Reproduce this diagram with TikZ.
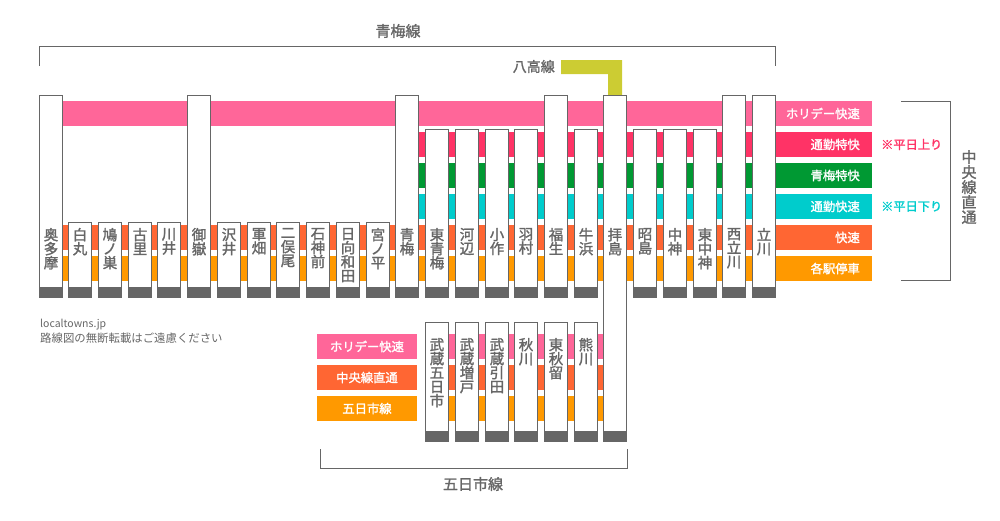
\documentclass[tikz,border=0pt]{standalone}
\usepackage{fontspec}
\setmainfont{Noto Sans CJK JP}
\newfontfamily\medf[FakeBold=1.6]{Noto Sans CJK JP}
\definecolor{ink}{HTML}{666666}
\definecolor{choliday}{HTML}{FF6699}
\definecolor{ccomm}{HTML}{FF3366}
\definecolor{cgreen}{HTML}{009933}
\definecolor{ccyan}{HTML}{00CCCC}
\definecolor{crapid}{HTML}{FF6633}
\definecolor{clocal}{HTML}{FF9900}
\definecolor{cyel}{HTML}{CCCC33}
\tikzset{
  stbox/.style={draw=ink,line width=1pt,fill=white,minimum width=23pt,inner sep=0pt,outer sep=0pt},
  sttext/.style={text=ink,font=\fontsize{14.5}{14}\selectfont\medf,align=center,inner sep=0pt,outer sep=0pt},
  legbox/.style={minimum height=25pt,inner sep=0pt,outer sep=0pt,anchor=north west,text=white,font=\fontsize{12.3}{12}\selectfont\medf},
  title/.style={text=ink,font=\fontsize{15}{15}\selectfont\medf,inner sep=0pt,align=center},
  note/.style={font=\fontsize{12.2}{12}\selectfont\medf,inner sep=0pt,anchor=west},
  bracket/.style={draw=ink,line width=1pt},
}
\newcommand{\stn}[5]{%
  \fill[ink] (#2,#4) rectangle ++(24,11);
  \pgfmathsetmacro{\stnh}{#4-#3-0.5}
  \node[stbox,minimum height=\stnh pt,anchor=north] (#1) at (#2+12,#3+.5) {};
  \node[sttext,anchor=north] (#1-t) at (#2+12,\stntexttop) {#5};
}
\newcommand{\band}[4]{\fill[#4] (#2,#1) rectangle (#3,#1+25);}
\begin{document}
\begin{tikzpicture}[x=1pt,y=-1pt]
\useasboundingbox (0,0) rectangle (1000,520);
% yellow line
\fill[cyel] (561,60) -- (622,60) -- (622,96) -- (608,96) -- (608,74) -- (561,74) -- cycle;
% bands upper
\band{101}{63}{776}{choliday}
\band{132}{419}{776}{ccomm}
\band{163}{419}{776}{cgreen}
\band{194}{419}{776}{ccyan}
\band{225}{63}{776}{crapid}
\band{256}{63}{776}{clocal}
% bands lower
\band{334}{449}{603}{choliday}
\band{365}{449}{603}{crapid}
\band{396}{449}{603}{clocal}
% stations upper
\def\stntexttop{228}
\stn{s01}{39}{95}{287}{奥\\多\\摩}
\stn{s02}{68}{222}{287}{白\\丸}
\stn{s03}{98}{222}{287}{鳩\\ノ\\巣}
\stn{s04}{128}{222}{287}{古\\里}
\stn{s05}{157}{222}{287}{川\\井}
\stn{s06}{187}{95}{287}{御\\嶽}
\stn{s07}{217}{222}{287}{沢\\井}
\stn{s08}{247}{222}{287}{軍\\畑}
\stn{s09}{276}{222}{287}{二\\俣\\尾}
\stn{s10}{306}{222}{287}{石\\神\\前}
\stn{s11}{336}{222}{287}{日\\向\\和\\田}
\stn{s12}{366}{222}{287}{宮\\ノ\\平}
\stn{s13}{395}{95}{287}{青\\梅}
\stn{s14}{425}{129}{287}{東\\青\\梅}
\stn{s15}{455}{129}{287}{河\\辺}
\stn{s16}{485}{129}{287}{小\\作}
\stn{s17}{514}{129}{287}{羽\\村}
\stn{s18}{544}{95}{287}{福\\生}
\stn{s19}{574}{129}{287}{牛\\浜}
\stn{s20}{603}{95}{431}{拝\\島}
\stn{s21}{633}{129}{287}{昭\\島}
\stn{s22}{663}{129}{287}{中\\神}
\stn{s23}{693}{129}{287}{東\\中\\神}
\stn{s24}{722}{95}{287}{西\\立\\川}
\stn{s25}{752}{95}{287}{立\\川}
% stations lower
\def\stntexttop{338}
\stn{t1}{425}{322}{431}{武\\蔵\\五\\日\\市}
\stn{t2}{455}{322}{431}{武\\蔵\\増\\戸}
\stn{t3}{485}{322}{431}{武\\蔵\\引\\田}
\stn{t4}{514}{322}{431}{秋\\川}
\stn{t5}{544}{322}{431}{東\\秋\\留}
\stn{t6}{574}{322}{431}{熊\\川}
% legend right
\foreach \n/\y/\c/\t in {a/101/choliday/ホリデー快速,b/132/ccomm/通勤特快,c/163/cgreen/青梅特快,d/194/ccyan/通勤快速,e/225/crapid/快速,f/256/clocal/各駅停車}{
  \node[legbox,fill=\c,minimum width=96pt] (leg\n) at (776,\y) {};
  \node[text=white,font=\fontsize{12.3}{12}\selectfont\medf,inner sep=0pt,anchor=east] (leg\n-t) at (860,\y+12.5) {\t};
}
\node[note,text=ccomm] (note1) at (881,144.5) {※平日上り};
\node[note,text=ccyan] (note2) at (881,206.5) {※平日下り};
% legend lower
\node[legbox,fill=choliday,minimum width=100pt] (low1) at (317,334) {ホリデー快速};
\node[legbox,fill=crapid,minimum width=100pt] (low2) at (317,365) {中央線直通};
\node[legbox,fill=clocal,minimum width=100pt] (low3) at (317,396) {五日市線};
% brackets
\draw[bracket] (39.5,66) -- (39.5,46.5) -- (775.5,46.5) -- (775.5,66);
\draw[bracket] (320.5,449) -- (320.5,468.5) -- (627.5,468.5) -- (627.5,449);
\draw[bracket] (901,101.5) -- (950.5,101.5) -- (950.5,280.5) -- (901,280.5);
% titles
\node[title] (ome) at (398,31) {青梅線};
\node[title,font=\fontsize{14}{14}\selectfont\medf,anchor=east] (hachi) at (555,66.5) {八高線};
\node[title] (itsu) at (473,484) {五日市線};
\node[title,anchor=north] (chuo) at (969,150) {中\\央\\線\\直\\通};
% credit
\node[text=ink,font=\fontsize{10.5}{13}\selectfont,inner sep=0pt,anchor=west] (cr1) at (40,325) {localtowns.jp};
\node[text=ink,font=\fontsize{11.4}{13}\selectfont,inner sep=0pt,anchor=west] (cr2) at (40,338) {路線図の無断転載はご遠慮ください};
\end{tikzpicture}
\end{document}
